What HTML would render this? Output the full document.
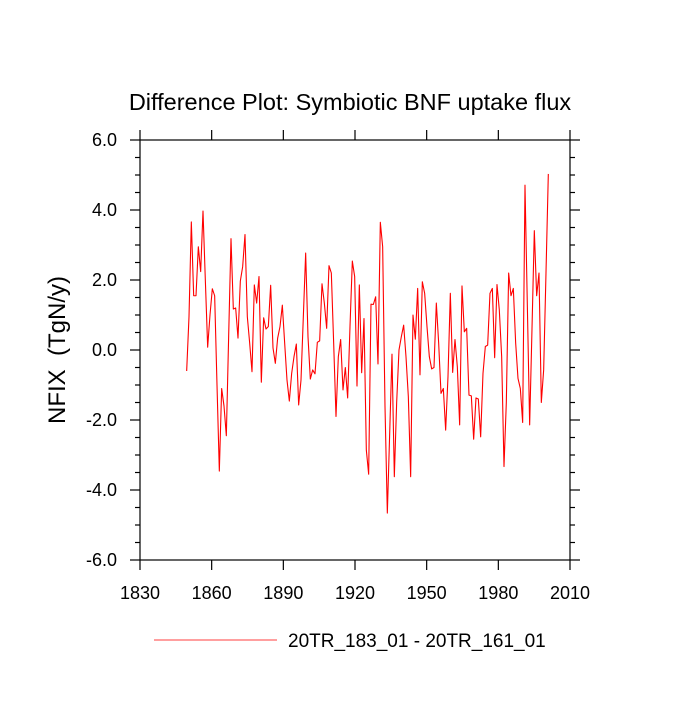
<!DOCTYPE html>
<html><head><meta charset="utf-8"><style>
body{margin:0;background:#fff}
svg text{font-family:"Liberation Sans",sans-serif;fill:#000;white-space:pre}
</style></head><body>
<svg id="chart" width="700" height="700" viewBox="0 0 700 700" xmlns="http://www.w3.org/2000/svg">
<text x="350" y="110" font-size="23.5" text-anchor="middle">Difference Plot: Symbiotic BNF uptake flux</text>
<text transform="translate(65,350) rotate(-90)" font-size="24" text-anchor="middle" xml:space="preserve">NFIX  (TgN/y)</text>
<g id="axes"></g>
<path id="series" fill="none" stroke="#ff0000" stroke-width="1.1" stroke-linejoin="round"></path>
<line x1="154" y1="640" x2="277" y2="640" stroke="#ff6666" stroke-width="1.2"/>
<text x="288" y="647" font-size="19">20TR_183_01 - 20TR_161_01</text>
</svg>
<script>
const startYear = 1850;
const values = [-0.6,0.95,3.66,1.55,1.55,2.95,2.24,3.97,2.0,0.08,1.0,1.75,1.55,-1.0,-3.46,-1.1,-1.6,-2.45,0.4,3.18,1.17,1.2,0.34,1.97,2.38,3.3,0.95,0.2,-0.62,1.86,1.34,2.1,-0.92,0.92,0.6,0.67,1.85,0.06,-0.38,0.34,0.67,1.28,0.2,-0.86,-1.46,-0.67,-0.19,0.17,-1.57,-0.86,
0.95,
2.77,0.38,-0.83,-0.57,-0.68,0.22,0.26,1.89,1.34,0.62,2.41,2.2,0.2,-1.9,-0.19,0.3,-1.14,-0.5,-1.37,0.67,2.54,2.1,-1.03,1.86,-0.65,0.9,-2.86,-3.55,1.31,1.3,1.52,-0.4,3.65,2.95,-1.6,-4.66,-2.4,-0.12,-3.62,-1.5,0.0,0.38,0.71,-0.19,-1.33,-3.62,1.0,0.31,1.76,-0.71,
1.95,1.62,0.67,-0.19,-0.54,-0.5,1.34,0.2,-1.24,-1.1,-2.29,-0.76,1.62,-0.64,0.3,-0.48,-2.14,1.83,0.52,0.62,-1.29,-1.31,-2.55,-1.37,-1.4,-2.48,-0.67,0.1,0.14,1.62,1.76,-0.22,1.87,1.14,-0.19,-3.33,-1.5,2.2,1.55,1.76,0.2,-0.81,-1.1,-2.07,4.71,1.3,-2.14,0.6,3.41,1.55,2.2,-1.5,-0.57,2.2,5.03];
const xTicks = [1830,1860,1890,1920,1950,1980,2010];
const yTicks = [-6,-4,-2,0,2,4,6];
const yTickLabels = ["-6.0","-4.0","-2.0","0.0","2.0","4.0","6.0"];

const L=140,R=570,T=140,B=560;
const yMin=-6,yMax=6;
// data x scale: 1850 -> 186.67, step 2.333 px/year
const xDataMin=1830,xDataMax=2014.29;
const sx=v=>L+(v-xDataMin)/(xDataMax-xDataMin)*(R-L);
// tick label positions evenly spread across frame
const sxTick=i=>L+i/(xTicks.length-1)*(R-L);
const sy=v=>B-(v-yMin)/(yMax-yMin)*(B-T);
const NS="http://www.w3.org/2000/svg";
const axes=document.getElementById('axes');
function mk(tag,attrs){const e=document.createElementNS(NS,tag);for(const k in attrs)e.setAttribute(k,attrs[k]);axes.appendChild(e);return e;}
const st={stroke:"#000","stroke-width":1.2};
let fr=mk('rect',{x:L,y:T,width:R-L,height:B-T,fill:"none",stroke:"#000","stroke-width":1.2});


xTicks.forEach((v,i)=>{
  const x=sxTick(i);
  const a=mk('line',Object.assign({x1:x,y1:B,x2:x,y2:B+10},st));
  
  
  const b=mk('line',Object.assign({x1:x,y1:T,x2:x,y2:T-10},st));
  
  
  const t=mk('text',{x:x,y:B+39,"font-size":18,"text-anchor":"middle"});
  t.textContent=v;
  
  
});
for(let v=yMin;v<=yMax+1e-9;v+=0.5){
  const y=sy(v);const major=Math.abs(v-Math.round(v/2)*2)<1e-9;const len=major?10:5;
  const a=mk('line',Object.assign({x1:L,y1:y,x2:L-len,y2:y},st));
  
  
  const b=mk('line',Object.assign({x1:R,y1:y,x2:R+len,y2:y},st));
  
  
}
yTicks.forEach((v,i)=>{
  const t=mk('text',{x:L-23,y:sy(v)+6,"font-size":18,"text-anchor":"end"});
  t.textContent=yTickLabels[i];
  
  
});
document.getElementById('series').setAttribute('d',values.map((v,i)=>(i?'L':'M')+sx(startYear+i).toFixed(2)+','+sy(v).toFixed(2)).join(''));
</script>
</body></html>
